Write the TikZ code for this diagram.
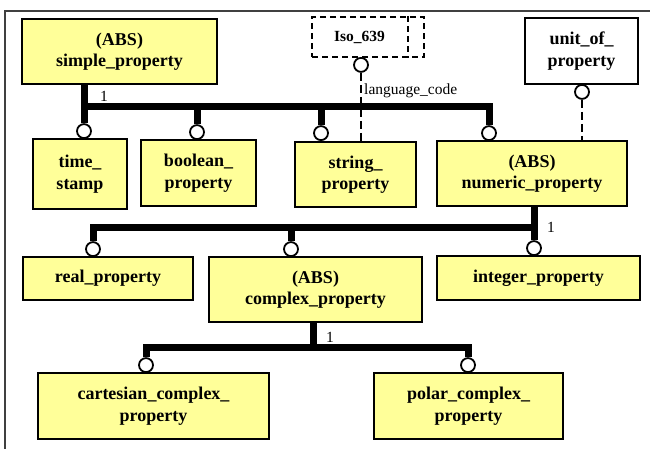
\documentclass[tikz,border=0pt]{standalone}
\usepackage{fontspec}
\setmainfont{Liberation Serif}
\usetikzlibrary{calc}
\definecolor{boxyellow}{RGB}{255,255,153}
\begin{document}
\begin{tikzpicture}[x=1pt,y=-1pt,
  entity/.style={draw, line width=1.8pt, fill=boxyellow, inner sep=0pt,
    font=\fontsize{18}{21.5}\selectfont\bfseries, align=center},
  refbox/.style={entity, fill=white},
  dashbox/.style={draw, line width=1.5pt, dash pattern=on 6pt off 4pt},
  hub/.style={circle, draw, line width=1.8pt, fill=white, minimum size=14pt, inner sep=0pt},
  tree/.style={line width=7pt},
  link/.style={line width=1.5pt, dash pattern=on 8pt off 4pt},
  card/.style={font=\fontsize{15.5}{18}\selectfont, inner sep=0pt},
]
\useasboundingbox (0,0) rectangle (650,448);
\draw[line width=1.3pt, black!75] (5,11) rectangle (700,500);

% entities
\node[entity, minimum width=195pt, minimum height=65pt] (simple) at (119.5,51.5) {(ABS)\\simple\_property};
\node[entity, minimum width=94pt, minimum height=70pt] (time) at (80,174) {time\_\\stamp};
\node[entity, minimum width=115pt, minimum height=66pt] (bool) at (198.5,173) {boolean\_\\property};
\node[entity, minimum width=121pt, minimum height=65pt] (string) at (355.5,174.5) {string\_\\property};
\node[entity, minimum width=190pt, minimum height=65pt] (numeric) at (532,173.5) {(ABS)\\numeric\_property};
\node[refbox, minimum width=113pt, minimum height=66pt] (unit) at (581.5,51) {unit\_of\_\\property};
\node[entity, minimum width=170pt, minimum height=43pt] (real) at (108,278.5) {real\_property};
\node[entity, minimum width=213pt, minimum height=65pt] (complex) at (315.5,289.5) {(ABS)\\complex\_property};
\node[entity, minimum width=203pt, minimum height=44pt] (integer) at (538.5,278) {integer\_property};
\node[entity, minimum width=231pt, minimum height=66pt] (cart) at (153.5,406) {cartesian\_complex\_\\property};
\node[entity, minimum width=189pt, minimum height=66pt] (polar) at (468.5,406) {polar\_complex\_\\property};

% external type (dashed)
\node[dashbox, minimum width=112pt, minimum height=40pt, inner sep=0pt] (iso) at (368,37) {};
\draw[dashbox] ($(iso.north east)+(-17,0)$) -- ($(iso.south east)+(-17,0)$);
\node[font=\fontsize{15.5}{18}\selectfont\bfseries, inner sep=0pt] (isolbl) at (359.5,37) {Iso\_639};

% subtype hubs
\node[hub, anchor=south] (hT) at (84,139) {};
\node[hub, anchor=south] (hB) at (197,140) {};
\node[hub, anchor=south] (hS) at (321,141) {};
\node[hub, anchor=south] (hN) at (489,141) {};
\node[hub, anchor=south] (hR) at (93,257) {};
\node[hub, anchor=south] (hC) at (291,257) {};
\node[hub, anchor=south] (hI) at (534,256) {};
\node[hub, anchor=south] (hCa) at (146,373) {};
\node[hub, anchor=south] (hP) at (468,373) {};

% reference hubs
\node[hub, anchor=north] (hIso) at (361,57) {};
\node[hub, anchor=north] (hU) at (582,84) {};

% simple_property subtype tree
\coordinate (j1) at (84,106);
\draw[tree] (simple.south -| hT) -- (hT.north);
\draw[tree] (j1) -- (j1 -| hN) -- (hN.north);
\draw[tree] (j1 -| hB) -- (hB.north);
\draw[tree] (j1 -| hS) -- (hS.north);

% numeric_property subtype tree
\coordinate (j2) at (534,227);
\draw[tree] (numeric.south -| hI) -- (hI.north);
\draw[tree] (j2) -- (j2 -| hR) -- (hR.north);
\draw[tree] (j2 -| hC) -- (hC.north);

% complex_property subtype tree
\coordinate (j3) at (313,347);
\draw[tree] (complex.south -| j3) -- (j3);
\draw[tree] (hCa.north) -- (j3 -| hCa) -- (j3 -| hP) -- (hP.north);

% attribute references
\draw[link] (hIso.south) -- (string.north -| hIso);
\draw[link] (hU.south) -- (numeric.north -| hU);
\node[card, anchor=base west] (lang) at (364,94) {language\_code};

% cardinality marks
\node[card, anchor=base] (m1) at (104,101) {1};
\node[card, anchor=base] (m2) at (551,232) {1};
\node[card, anchor=base] (m3) at (330,342) {1};
\end{tikzpicture}
\end{document}
